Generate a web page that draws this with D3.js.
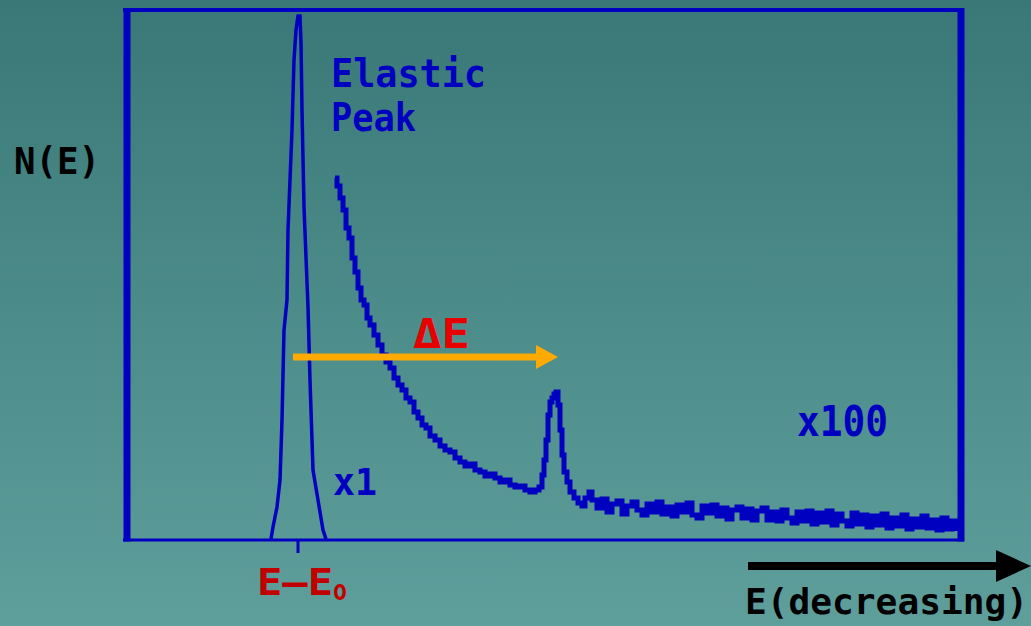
<!DOCTYPE html>
<html>
<head>
<meta charset="utf-8">
<script src="https://cdn.jsdelivr.net/npm/d3@7"></script>
<style>
  html, body { margin: 0; padding: 0; overflow: hidden; }
  svg { display: block; }
</style>
</head>
<body>
<script>
// elastic peak (x1), channel vs counts
let elasticX = [28.8, 29.2, 30.0, 30.6, 31.0, 31.4, 32.0, 32.2, 33.0, 33.4, 33.8, 34.2,
  34.6, 34.8, 35.0, 35.4, 36.2, 36.6, 37.2, 38.2, 39.2, 39.8]
let elasticN = [0, 2.4, 6.4, 11.8, 23.8, 41.8, 47.8, 61.8, 81.8, 95.8, 101.8, 104.6,
  104.6, 99.2, 85.8, 66.4, 46.4, 31.8, 13.8, 7.8, 1.8, 0]

// loss region (x100)
let lossX = [41.6, 42.0, 42.6, 43.2, 43.8, 44.4, 45.0, 45.6, 46.2, 46.8, 47.4, 48.0, 48.6, 49.4,
  50.2, 51.0, 51.8, 52.6, 53.4, 54.2, 55.0, 55.8, 56.6, 57.4, 58.2, 59.0, 59.8, 60.6, 61.6,
  62.6, 63.6, 64.6, 65.6, 66.6, 67.6, 68.6, 69.6, 70.6, 71.6, 72.6, 73.6, 74.6, 75.6, 76.6,
  77.6, 78.6, 79.6, 80.6, 81.6, 82.4,
  83.0, 83.4, 83.8, 84.2, 84.6, 85.0, 85.4, 85.8, 86.2, 86.6, 87.0, 87.4, 88.0, 88.6, 89.4,
  90.2, 91.0, 91.6, 92.4, 93.0,
  94, 95, 96, 97, 98, 99, 100, 101, 102, 103, 104, 105, 106, 107, 108, 109, 110, 111, 112,
  113, 114, 115, 116, 117, 118, 119, 120, 121, 122, 123, 124, 125, 126, 127, 128, 129, 130,
  131, 132, 133, 134, 135, 136, 137, 138, 139, 140, 141, 142, 143, 144, 145, 146, 147, 148,
  149, 150, 151, 152, 153, 154, 155, 156, 157, 158, 159, 160, 161, 162, 163, 164, 165, 166]
let lossN = [72.2, 70.6, 68.2, 65.8, 62.2, 60.2, 56.2, 53.4, 50.2, 47.8, 46.8, 44.2, 42.8, 40.8,
  38.8, 36.8, 35.4, 34.2, 32.2, 30.8, 29.8, 28.2, 27.4, 25.4, 24.2, 22.8, 22.2, 20.6, 19.8,
  18.6, 17.8, 17.4, 16.2, 15.4, 14.6, 15.0, 13.8, 13.4, 12.6, 13.0, 12.2, 11.4, 11.8, 10.8,
  10.4, 10.6, 9.8, 9.4, 9.8, 10.4,
  12.8, 15.8, 19.8, 24.8, 27.4, 28.2, 29.0, 29.4, 26.8, 21.8, 16.8, 13.4, 11.4, 9.4, 8.2,
  7.2, 6.6, 8.2, 9.4, 7.8,
  6.2, 8.0, 5.4, 7.0, 7.6, 5.0, 6.6, 7.4, 5.8, 4.8, 7.0, 5.4, 7.4, 5.0, 6.4, 4.6, 6.8, 5.4, 7.2,
  4.8, 4.2, 6.6, 5.2, 6.8, 4.6, 6.2, 4.0, 5.8, 6.4, 4.2, 6.0, 3.8, 5.6, 6.2, 3.8, 5.4, 3.6,
  5.8, 4.2, 3.2, 5.4, 3.6, 5.6, 3.0, 5.2, 3.4, 5.6, 2.8, 5.0, 3.6, 2.6, 5.2, 3.0, 4.8, 2.4,
  4.6, 2.8, 5.0, 2.2, 4.2, 2.6, 4.8, 2.0, 4.0, 2.4, 4.6, 2.2, 3.8, 1.8, 4.2, 2.0, 3.6, 1.6]

// elastic energy E0 position (channel)
let e0Channel = 34.2

let width = 1031
let height = 626
let blue = '#0000c0'
let font = '"DejaVu Sans Mono", "Liberation Mono", monospace'

let svg = d3.select('body').append('svg')
  .attr('width', width)
  .attr('height', height)

// background gradient
let grad = svg.append('defs').append('linearGradient')
  .attr('id', 'bg')
  .attr('x1', 0).attr('y1', 0).attr('x2', 0).attr('y2', 1)
grad.append('stop').attr('offset', '0%').attr('stop-color', '#397876')
grad.append('stop').attr('offset', '100%').attr('stop-color', '#5e9f9c')
svg.append('rect')
  .attr('width', width)
  .attr('height', height)
  .attr('fill', 'url(#bg)')

let xScale = d3.scaleLinear().domain([0, 167]).range([127, 962])
let yScale = d3.scaleLinear().domain([0, 106]).range([539, 9])

let plot = svg.append('g')

// elastic peak
let elasticLine = d3.line()
  .x(i => xScale(elasticX[i]))
  .y(i => yScale(elasticN[i]))
plot.append('path')
  .attr('d', elasticLine(d3.range(elasticX.length)))
  .attr('fill', 'none')
  .attr('stroke', blue)
  .attr('stroke-width', 3.5)

// loss spectrum
let lossLine = d3.line()
  .x(i => xScale(lossX[i]))
  .y(i => yScale(lossN[i]))
  .curve(d3.curveStepAfter)
plot.append('path')
  .attr('d', lossLine(d3.range(lossX.length)))
  .attr('fill', 'none')
  .attr('stroke', blue)
  .attr('stroke-width', 5)

// frame
let [x0, x1] = xScale.range()
let [y0, y1] = yScale.range()
svg.append('line').attr('x1', x0 - 4).attr('x2', x1 + 2).attr('y1', y1 + 1).attr('y2', y1 + 1)
  .attr('stroke', blue).attr('stroke-width', 4)
svg.append('line').attr('x1', x0 - 4).attr('x2', x1 + 2).attr('y1', y0 + 1).attr('y2', y0 + 1)
  .attr('stroke', blue).attr('stroke-width', 3)
svg.append('line').attr('x1', x0).attr('x2', x0).attr('y1', y1 - 1).attr('y2', y0 + 2.5)
  .attr('stroke', blue).attr('stroke-width', 7)
svg.append('line').attr('x1', x1 - 1).attr('x2', x1 - 1).attr('y1', y1 - 1).attr('y2', y0 + 2.5)
  .attr('stroke', blue).attr('stroke-width', 7)

// E0 tick
svg.append('line')
  .attr('x1', xScale(e0Channel)).attr('x2', xScale(e0Channel))
  .attr('y1', y0).attr('y2', y0 + 14)
  .attr('stroke', blue).attr('stroke-width', 3)

// Delta E arrow (orange)
let arrowY = 357
svg.append('line')
  .attr('x1', 293).attr('x2', 540)
  .attr('y1', arrowY).attr('y2', arrowY)
  .attr('stroke', '#ffaa00').attr('stroke-width', 7)
svg.append('path')
  .attr('d', `M536,${arrowY - 12}L558,${arrowY}L536,${arrowY + 12}Z`)
  .attr('fill', '#ffaa00')

// energy direction arrow (black)
let eArrowY = 566
svg.append('line')
  .attr('x1', 748).attr('x2', 1000)
  .attr('y1', eArrowY).attr('y2', eArrowY)
  .attr('stroke', '#000').attr('stroke-width', 8)
svg.append('path')
  .attr('d', `M996,${eArrowY - 16}L1031,${eArrowY}L996,${eArrowY + 16}Z`)
  .attr('fill', '#000')

// labels
function label(txt, x, y, size, len, color) {
  return svg.append('text')
    .attr('x', x).attr('y', y)
    .attr('font-family', font)
    .attr('font-weight', 'bold')
    .attr('font-size', size)
    .attr('textLength', len)
    .attr('lengthAdjust', 'spacingAndGlyphs')
    .attr('fill', color)
    .text(txt)
}

label('N(E)', 14, 174, 37, 86, '#000')
label('Elastic', 331, 87, 39, 155, blue)
label('Peak', 331, 131, 39, 85, blue)
label('x1', 333, 495, 38, 44, blue)
label('x100', 797, 436, 42, 91, blue)
label('\u0394E', 413, 348, 41, 57, '#e80000')
label('E\u2013E', 257, 595, 38, 76, '#c00000')
label('o', 333, 600, 28, 14, '#c00000')
label('E(decreasing)', 745, 614, 35, 283, '#000')
</script>
</body>
</html>
